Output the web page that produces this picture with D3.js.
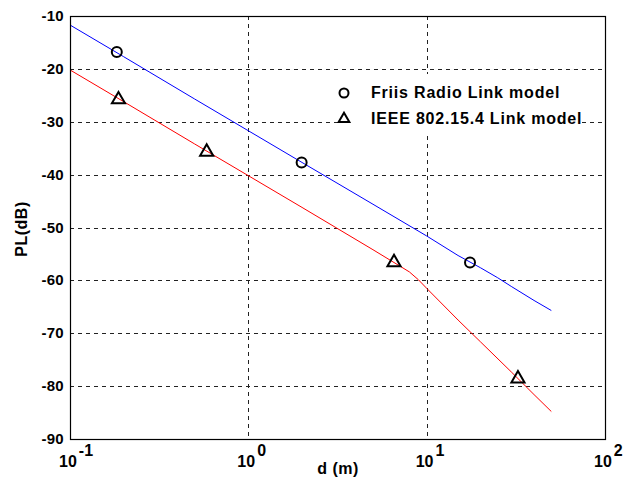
<!DOCTYPE html>
<html>
<head>
<meta charset="utf-8">
<script src="https://cdn.jsdelivr.net/npm/d3@7"></script>
<style>
  body { margin: 0; background: #fff; }
  text { font-family: "Liberation Sans", Arial, sans-serif; font-weight: bold; fill: #000; }
</style>
</head>
<body>
<div id="chart"></div>
<script>
// line data (d in m, PL in dB)
const friisD  = [0.1, 0.2, 0.5, 1, 2, 5, 10, 15, 20, 25, 30, 40, 50];
const friisPL = [-11.7, -17.7, -25.7, -31.7, -37.7, -45.6, -51.6, -55.3, -57.6, -59.5, -61.2, -63.8, -65.7];
const ieeeD   = [0.1, 0.2, 0.5, 1, 2, 5, 7, 8, 9, 10, 15, 20, 30, 40, 50];
const ieeePL  = [-20.2, -26.2, -34.2, -40.2, -46.2, -54.2, -57.2, -58.4, -59.9, -61.5, -67.5, -71.6, -77.4, -81.6, -84.8];

// marker positions
const friisMarkD  = [0.183, 1.99, 17.5];
const friisMarkPL = [-16.8, -37.7, -56.6];
const ieeeMarkD   = [0.187, 0.584, 6.56, 32.5];
const ieeeMarkPL  = [-25.6, -35.5, -56.4, -78.4];

const xTicks = [0.1, 1, 10, 100];
const xTickExp = ["-1", "0", "1", "2"];
const yTicks = [-10, -20, -30, -40, -50, -60, -70, -80, -90];
const legendLabels = ["Friis Radio Link model", "IEEE 802.15.4 Link model"];

const width = 625, height = 486;
const mLeft = 70, mRight = 605, mTop = 16, mBottom = 439;

const svg = d3.select("#chart")
  .append("svg")
  .attr("width", width)
  .attr("height", height);

const x = d3.scaleLog().domain([0.1, 100]).range([mLeft, mRight]);
const y = d3.scaleLinear().domain([-90, -10]).range([mBottom, mTop]);

// grid
svg.append("g")
  .selectAll("line")
  .data(yTicks.slice(1, -1)).enter()
  .append("line")
  .attr("x1", mLeft).attr("x2", mRight)
  .attr("y1", d => Math.round(y(d)) + 0.5)
  .attr("y2", d => Math.round(y(d)) + 0.5)
  .attr("stroke", "#222")
  .attr("stroke-dasharray", "4,4");

svg.append("g")
  .selectAll("line")
  .data(xTicks.slice(1, -1)).enter()
  .append("line")
  .attr("y1", mTop).attr("y2", mBottom)
  .attr("x1", d => Math.round(x(d)) + 0.5)
  .attr("x2", d => Math.round(x(d)) + 0.5)
  .attr("stroke", "#222")
  .attr("stroke-dasharray", "4,4");

// lines
const line = d3.line()
  .x(p => x(p[0]))
  .y(p => y(p[1]));

svg.append("path")
  .datum(d3.zip(friisD, friisPL))
  .attr("d", line)
  .attr("fill", "none")
  .attr("stroke", "#0000ff")
  .attr("stroke-width", 1);

svg.append("path")
  .datum(d3.zip(ieeeD, ieeePL))
  .attr("d", line)
  .attr("fill", "none")
  .attr("stroke", "#ff0000")
  .attr("stroke-width", 1);

// markers
const tri = d3.symbol().type(d3.symbolTriangle).size(75);

svg.append("g")
  .selectAll("circle")
  .data(d3.zip(friisMarkD, friisMarkPL)).enter()
  .append("circle")
  .attr("cx", p => x(p[0]))
  .attr("cy", p => y(p[1]))
  .attr("r", 5)
  .attr("fill", "none")
  .attr("stroke", "#000")
  .attr("stroke-width", 2);

svg.append("g")
  .selectAll("path")
  .data(d3.zip(ieeeMarkD, ieeeMarkPL)).enter()
  .append("path")
  .attr("d", tri)
  .attr("transform", p => `translate(${x(p[0])},${y(p[1]) + 1})`)
  .attr("fill", "none")
  .attr("stroke", "#000")
  .attr("stroke-width", 2);

// legend
const lg = svg.append("g");
lg.append("rect")
  .attr("x", 338).attr("y", 74)
  .attr("width", 242).attr("height", 58)
  .attr("fill", "#fff");

lg.append("circle")
  .attr("cx", 344).attr("cy", 93)
  .attr("r", 4.5)
  .attr("fill", "none").attr("stroke", "#000").attr("stroke-width", 2);

lg.append("path")
  .attr("d", d3.symbol().type(d3.symbolTriangle).size(50))
  .attr("transform", "translate(344,119)")
  .attr("fill", "none").attr("stroke", "#000").attr("stroke-width", 2);

lg.selectAll("text")
  .data(legendLabels).enter()
  .append("text")
  .attr("x", 371)
  .attr("y", (d, i) => 98 + i * 26)
  .attr("font-size", "16px")
  .attr("letter-spacing", "0.8px")
  .text(d => d);

// axes box
svg.append("rect")
  .attr("x", mLeft + 0.5).attr("y", mTop + 0.5)
  .attr("width", mRight - mLeft).attr("height", mBottom - mTop)
  .attr("fill", "none")
  .attr("stroke", "#000")
  .attr("stroke-width", 1.2);

// y tick labels
svg.append("g")
  .selectAll("text")
  .data(yTicks).enter()
  .append("text")
  .attr("x", 64)
  .attr("y", d => y(d) + 5)
  .attr("text-anchor", "end")
  .attr("font-size", "15px")
  .attr("letter-spacing", "0.3px")
  .text(d => d);

// x tick labels: 10 with superscript
const xl = svg.append("g")
  .selectAll("text")
  .data(xTicks).enter()
  .append("text")
  .attr("x", d => x(d) - 11)
  .attr("y", 467)
  .attr("font-size", "16px");
xl.append("tspan").text("10");
xl.append("tspan")
  .attr("dy", -11)
  .attr("dx", 2)
  .text((d, i) => xTickExp[i]);

// axis titles
svg.append("text")
  .attr("x", 338)
  .attr("y", 474)
  .attr("text-anchor", "middle")
  .attr("font-size", "16px")
  .attr("letter-spacing", "0.5px")
  .text("d (m)");

svg.append("text")
  .attr("transform", "rotate(-90)")
  .attr("x", -229)
  .attr("y", 27)
  .attr("text-anchor", "middle")
  .attr("font-size", "16px")
  .attr("letter-spacing", "0.5px")
  .text("PL(dB)");
</script>
</body>
</html>
